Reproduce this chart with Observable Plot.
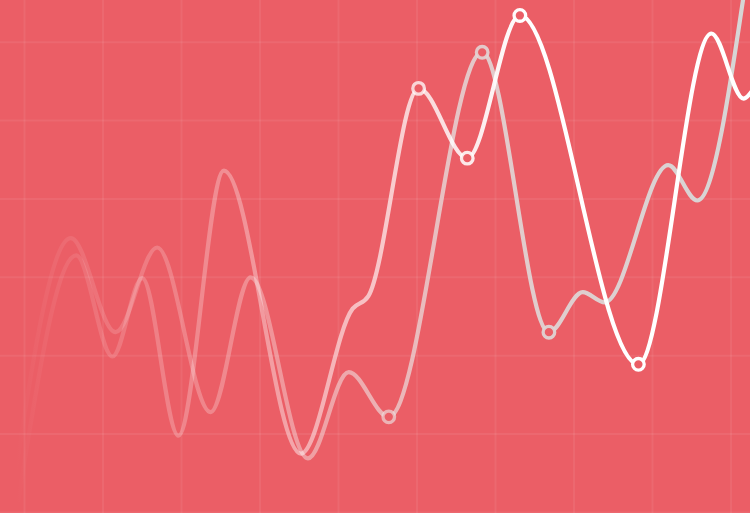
<!DOCTYPE html>
<html>
<head>
<meta charset="utf-8">
<script src="https://cdn.jsdelivr.net/npm/d3@7"></script>
<script src="https://cdn.jsdelivr.net/npm/@observablehq/plot@0.6"></script>
<style>
  html, body { margin: 0; padding: 0; background: #EB5E66; }
  #chart svg { display: block; }
</style>
</head>
<body>
<div id="chart"></div>
<script>
// Grid tick values
const xTicks = [0, 1, 2, 3, 4, 5, 6, 7, 8, 9];
const yTicks = [0, 1, 2, 3, 4, 5, 6];

// Series A (front, whiter)
const aX = [-0.08, 0.66, 1.12, 1.50, 1.96, 2.54, 3.52, 4.18, 4.38, 5.02, 5.64, 6.31, 7.82, 8.75, 9.16, 9.27];
const aY = [0.15, 3.28, 1.99, 2.99, 0.98, 4.36, 0.75, 2.60, 2.76, 5.41, 4.52, 6.34, 1.89, 6.11, 5.28, 5.38];
const aMarked = [9, 10, 11, 12];

// Series B (back, greyer)
const bX = [-0.18, 0.59, 1.16, 1.69, 2.37, 2.88, 3.61, 4.13, 4.64, 5.83, 6.68, 7.11, 7.39, 8.20, 8.57, 9.19];
const bY = [0.09, 3.50, 2.30, 3.38, 1.28, 3.00, 0.69, 1.79, 1.22, 5.87, 2.30, 2.81, 2.68, 4.43, 3.98, 6.79];
const bMarked = [8, 9, 10];

const bg = "#EB5E66";
const A = aX.map((x, i) => ({x, y: aY[i], i}));
const B = bX.map((x, i) => ({x, y: bY[i], i}));

const chart = Plot.plot({
  width: 750,
  height: 513,
  margin: 0,
  style: {background: bg},
  x: {domain: [-0.306, 9.248], axis: null},
  y: {domain: [-0.013, 6.531], axis: null},
  marks: [
    Plot.gridX(xTicks, {stroke: "#fff", strokeOpacity: 0.065, strokeWidth: 2}),
    Plot.gridY(yTicks, {stroke: "#fff", strokeOpacity: 0.065, strokeWidth: 2}),
    Plot.line(B, {x: "x", y: "y", curve: "monotone-x", stroke: "url(#gB)", strokeWidth: 4.2, clip: true}),
    Plot.dot(B.filter(d => bMarked.includes(d.i)), {x: "x", y: "y", r: 5.8, fill: bg, stroke: "url(#gB)", strokeWidth: 3.3}),
    Plot.line(A, {x: "x", y: "y", curve: "monotone-x", stroke: "url(#gA)", strokeWidth: 4.2, clip: true}),
    Plot.dot(A.filter(d => aMarked.includes(d.i)), {x: "x", y: "y", r: 5.8, fill: bg, stroke: "url(#gA)", strokeWidth: 3.3})
  ]
});

// Gradient definitions, spanning the x range of the plot
const [x0, x1] = chart.scale("x").range;
const defs = d3.select(chart).insert("defs", ":first-child");
function gradient(id, stops) {
  const g = defs.append("linearGradient").attr("id", id)
    .attr("gradientUnits", "userSpaceOnUse")
    .attr("x1", x0).attr("x2", x1).attr("y1", 0).attr("y2", 0);
  for (const [o, c, a] of stops) g.append("stop").attr("offset", o).attr("stop-color", c).attr("stop-opacity", a);
}
gradient("gA", [[0.02, "#fff", 0], [0.12, "#fff", 0.12], [0.32, "#fff", 0.32], [0.7, "#fff", 1], [1, "#fff", 1]]);
gradient("gB", [[0.02, "#fff", 0], [0.12, "#fff", 0.12], [0.32, "#fbeaea", 0.32], [0.65, "#e2d6d6", 0.9], [1, "#d6d6d6", 1]]);

document.getElementById("chart").append(chart);
</script>
</body>
</html>
